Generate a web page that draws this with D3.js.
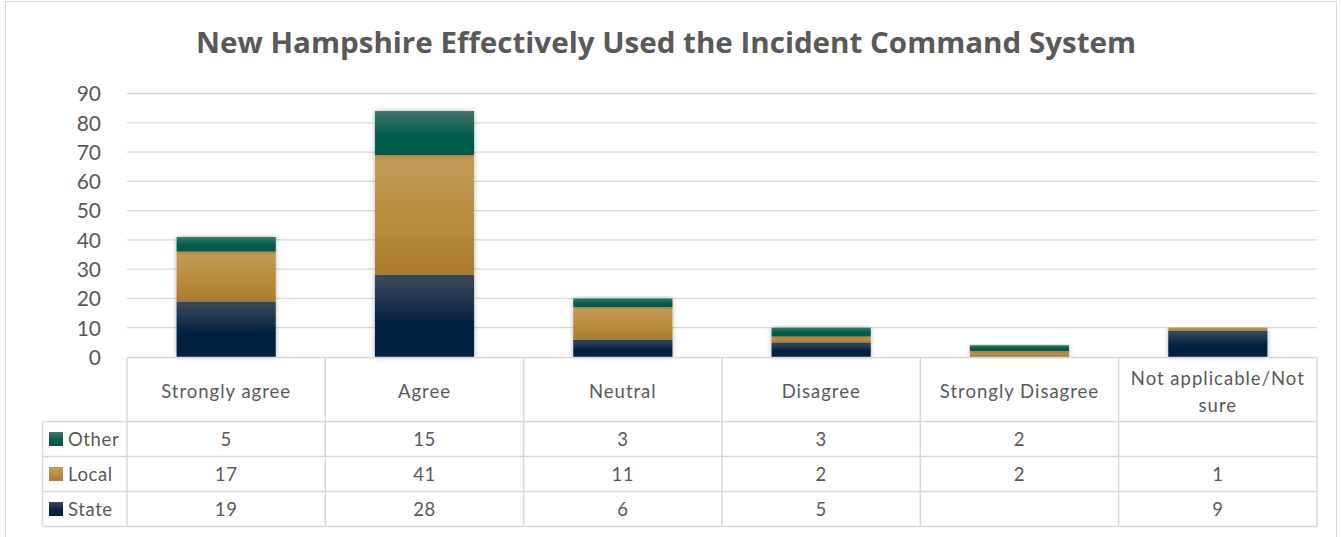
<!DOCTYPE html>
<html><head><meta charset="utf-8">
<script src="https://cdn.jsdelivr.net/npm/d3@7"></script>
<style>body{margin:0;background:#fff}svg{display:block}</style>
</head><body><svg id="c" width="1341" height="537"></svg>
<script>
const title = "New Hampshire Effectively Used the Incident Command System";
const categories = ["Strongly agree","Agree","Neutral","Disagree","Strongly Disagree","Not applicable/Not sure"];
const categoryLines = [["Strongly agree"],["Agree"],["Neutral"],["Disagree"],["Strongly Disagree"],["Not applicable/Not","sure"]];
const seriesNames = ["State","Local","Other"];
const stateVals = [19,28,6,5,null,9];
const localVals = [17,41,11,2,2,1];
const otherVals = [5,15,3,3,2,null];
const yTicks = [0,10,20,30,40,50,60,70,80,90];

const svg = d3.select("#c");
const font = "Lato, 'Open Sans', sans-serif";
const txt = "#595959", grid="#d9d9d9";

svg.append("rect").attr("x",5.5).attr("y",1.5).attr("width",1331).attr("height",560).attr("fill","#fff").attr("stroke","#d9d9d9");

const defs = svg.append("defs");
const grads = {State:["#3f4b5d","#062343","#02203f"],Local:["#c39b5b","#b98d3e","#ab7a2e"],Other:["#43736b","#025d4e","#005a4b"]};
Object.entries(grads).forEach(([k,c])=>{
  const g=defs.append("linearGradient").attr("id","g"+k).attr("x1",0).attr("y1",0).attr("x2",0).attr("y2",1);
  g.append("stop").attr("offset","0%").attr("stop-color",c[0]);
  g.append("stop").attr("offset","55%").attr("stop-color",c[1]);
  g.append("stop").attr("offset","100%").attr("stop-color",c[2]);
});
const f=defs.append("filter").attr("id","sh").attr("x","-20%").attr("y","-20%").attr("width","140%").attr("height","140%");
f.append("feDropShadow").attr("dx",0).attr("dy",0).attr("stdDeviation",2.5).attr("flood-color","#000").attr("flood-opacity",0.3);

const x0=127, x1=1317, y0=357, yTop=93.5;
const x = d3.scaleBand().domain(categories).range([x0,x1]).paddingInner(0).paddingOuter(0);
const y = d3.scaleLinear().domain([0,90]).range([y0,yTop]);

svg.append("text").attr("x",666).attr("y",53).attr("text-anchor","middle").attr("font-family","'Open Sans', sans-serif").attr("font-weight","bold")
  .attr("font-size",28).attr("fill",txt).attr("textLength",940).attr("lengthAdjust","spacingAndGlyphs").text(title);

// gridlines
svg.append("g").selectAll("line").data(yTicks.filter(d=>d>0)).join("line")
  .attr("x1",x0).attr("x2",x1).attr("y1",d=>y(d)).attr("y2",d=>y(d)).attr("stroke",grid).attr("stroke-width",1.3);

// y axis labels
const yAxis = d3.axisLeft(y).tickValues(yTicks).tickSize(0).tickPadding(0);
const ya = svg.append("g").attr("transform","translate(101,0)").call(yAxis);
ya.select(".domain").remove();
ya.selectAll("text").attr("font-family",font).attr("font-size",21).attr("fill",txt).attr("dy","0.35em");

// stacks
const rows = categories.map((c,i)=>({cat:c,State:stateVals[i]||0,Local:localVals[i]||0,Other:otherVals[i]||0}));
const stack = d3.stack().keys(seriesNames)(rows);
const bw = x.bandwidth()*0.5;
svg.append("g").selectAll("g").data(stack).join("g").attr("fill",d=>`url(#g${d.key})`)
  .selectAll("rect").data(d=>d.filter(s=>s[1]>s[0])).join("rect")
  .attr("x",d=>x(d.data.cat)+(x.bandwidth()-bw)/2).attr("width",bw)
  .attr("y",d=>y(d[1])).attr("height",d=>y(d[0])-y(d[1])).attr("filter","url(#sh)");

// table
const tb = svg.append("g");
const hdrTop=357.5, hdrBot=421.5, rowH=35;
const rowTops=[hdrBot,hdrBot+rowH,hdrBot+2*rowH];
const tBot = hdrBot+3*rowH;
const legL=42.5;
const line=(a,b,c,d)=>tb.append("line").attr("x1",a).attr("y1",b).attr("x2",c).attr("y2",d).attr("stroke",grid).attr("stroke-width",1.5);
line(x0,hdrTop,x1,hdrTop);
line(legL,hdrBot,x1,hdrBot);
rowTops.forEach(t=>line(legL,t+rowH,x1,t+rowH));
line(legL,hdrBot,legL,tBot);
categories.forEach(c=>line(x(c),hdrTop,x(c),tBot));
line(x1,hdrTop,x1,tBot);

categoryLines.forEach((ls,i)=>{
  const cx=x(categories[i])+x.bandwidth()/2;
  const t=tb.append("text").attr("text-anchor","middle").attr("font-family",font).attr("font-size",18.5).attr("fill",txt).attr("letter-spacing",1);
  const start = ls.length===1 ? 397.5 : 384.5;
  ls.forEach((l,j)=>t.append("tspan").attr("x",cx).attr("y",start+j*27.5).text(l));
});
const tableSeries=[["Other",otherVals],["Local",localVals],["State",stateVals]];
tableSeries.forEach(([name,vals],r)=>{
  const cy=rowTops[r]+rowH/2;
  tb.append("rect").attr("x",49).attr("y",cy-7).attr("width",14).attr("height",14).attr("fill",`url(#g${name})`);
  tb.append("text").attr("x",68).attr("y",cy).attr("dy","0.36em").attr("font-family",font).attr("font-size",18.5).attr("letter-spacing",0.6).attr("fill",txt).text(name);
  vals.forEach((v,i)=>{
    if(v==null) return;
    tb.append("text").attr("x",x(categories[i])+x.bandwidth()/2).attr("y",cy).attr("dy","0.36em").attr("text-anchor","middle")
      .attr("font-family",font).attr("font-size",18.5).attr("letter-spacing",0.6).attr("fill",txt).text(v);
  });
});
</script></body></html>
